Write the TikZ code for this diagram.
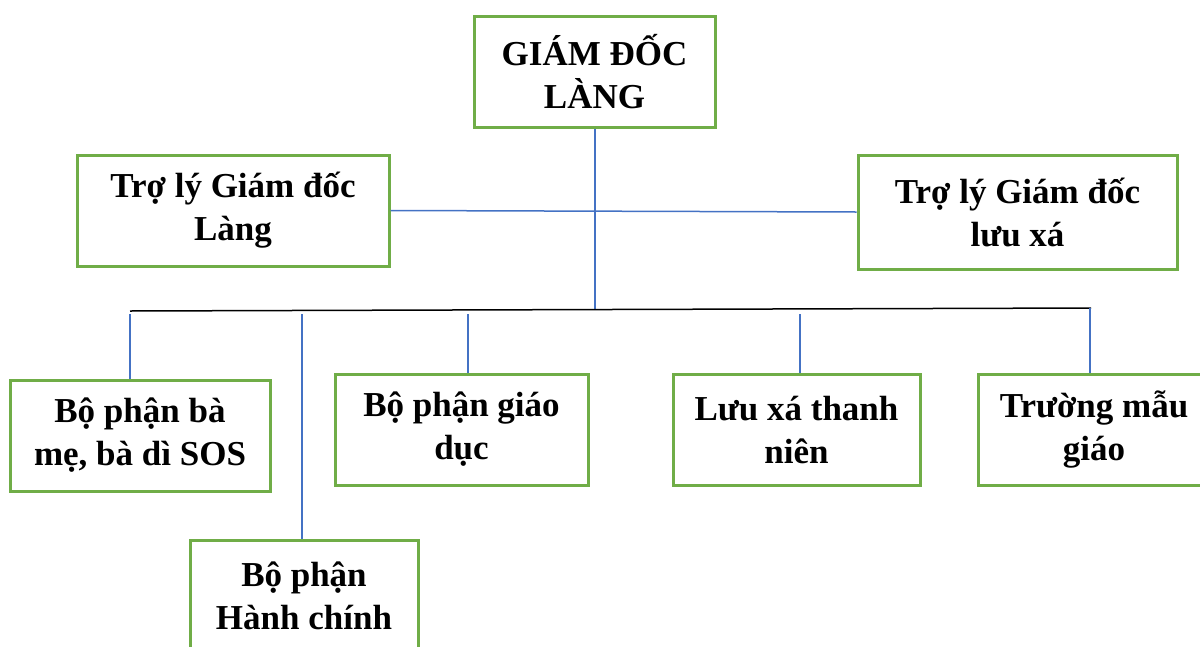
\documentclass[tikz,border=0pt]{standalone}
\usepackage{fontspec}
\setmainfont{Liberation Serif}
\begin{document}
\begin{tikzpicture}[x=1pt,y=-1pt,
  box/.style={draw=boxgreen,line width=3pt,fill=white,inner sep=0pt,align=center,
    font=\fontsize{35}{43}\selectfont\bfseries,rectangle},
  conn/.style={draw=lineblue,line width=1.5pt},
  bar/.style={draw=black,line width=1.5pt}]
\definecolor{boxgreen}{HTML}{70AD47}
\definecolor{lineblue}{HTML}{4472C4}
\useasboundingbox (0,0) rectangle (1200,646);
\clip (0,0) rectangle (1200,646);
% boxes
\node[box,minimum width=241pt,minimum height=111pt] (top) at (594.5,71.5) {GIÁM ĐỐC\\LÀNG};
\node[box,minimum width=312pt,minimum height=111pt] (tl) at (233,210.5) {Trợ lý Giám đốc\\Làng};
\node[box,minimum width=319pt,minimum height=114pt] (tr) at (1017.5,212) {Trợ lý Giám đốc\\lưu xá};
\node[box,minimum width=260pt,minimum height=111pt] (b1) at (140,435.5) {Bộ phận bà\\mẹ, bà dì SOS};
\node[box,minimum width=253pt,minimum height=111pt] (b2) at (461.5,429.5) {Bộ phận giáo\\dục};
\node[box,minimum width=247pt,minimum height=111pt] (b3) at (796.5,429.5) {Lưu xá thanh\\niên};
\node[box,minimum width=232pt,minimum height=111pt] (b4) at (1094,429.5) {Trường mẫu\\giáo};
\node[box,minimum width=228pt,minimum height=111pt] (b5) at (304,595.5) {Bộ phận\\Hành chính};
% junction coordinates
\coordinate (j) at (595,310);
\coordinate (bl) at (130,311);
\coordinate (br) at (1091,308);
\coordinate (d1) at (130,314);
\coordinate (d5) at (302,314);
\coordinate (d2) at (468,314);
\coordinate (d3) at (800,314);
\coordinate (d4) at (1090,308);
% connectors
\draw[conn] (top.south -| j) -- (j);
\draw[conn] (tl.east) -- (tr.west);
\draw[bar] (bl) -- (br);
\draw[conn] (d1) -- (d1 |- b1.north);
\draw[conn] (d5) -- (d5 |- b5.north);
\draw[conn] (d2) -- (d2 |- b2.north);
\draw[conn] (d3) -- (d3 |- b3.north);
\draw[conn] (d4) -- (d4 |- b4.north);
\end{tikzpicture}
\end{document}
